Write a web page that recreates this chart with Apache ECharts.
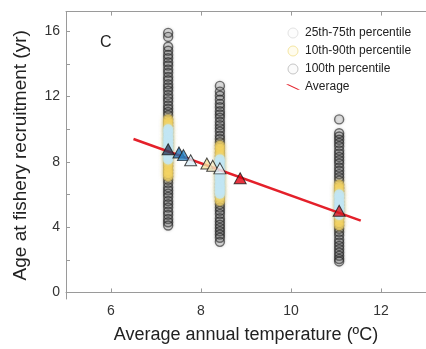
<!DOCTYPE html>
<html>
<head>
<meta charset="utf-8">
<script src="https://cdn.jsdelivr.net/npm/echarts@6/dist/echarts.min.js"></script>
<style>
    html, body { margin: 0; padding: 0; background: #fff; }
    #fig { width: 426px; height: 349px; }
</style>
</head>
<body>
<div id="fig"></div>
<script>
    // sites (average annual temperature, ºC)
    var siteTemp = [7.27, 8.42, 11.07]

    // simulated ages at fishery recruitment per site (yr)
    var agesSite1 = [15.9, 15.65, 15.05, 14.8, 14.55, 14.35, 14.1, 13.9, 13.65, 13.45, 13.2, 13.0, 12.75, 12.55, 12.35,
        12.1, 11.9, 11.7, 11.45, 11.25, 11.05, 10.85, 10.6, 10.4, 10.2, 10.0, 9.8, 9.55, 9.35, 9.15, 8.95, 8.75,
        8.55, 8.35, 8.15, 7.95, 7.75, 7.5, 7.3, 7.1, 6.9, 6.7, 6.45, 6.25, 6.05, 5.85, 5.6, 5.4, 5.2, 4.95, 4.75,
        4.5, 4.3, 4.1]
    var agesSite2 = [12.65, 12.3, 12.05, 11.8, 11.55, 11.35, 11.1, 10.9, 10.7, 10.45, 10.25, 10.05, 9.85, 9.6, 9.4,
        9.2, 9.0, 8.8, 8.55, 8.35, 8.15, 7.95, 7.7, 7.5, 7.3, 7.1, 6.9, 6.65, 6.45, 6.25, 6.05, 5.85, 5.6, 5.4, 5.2,
        5.0, 4.8, 4.55, 4.35, 4.15, 3.95, 3.75, 3.55, 3.35, 3.1]
    var agesSite3 = [10.6, 9.75, 9.55, 9.35, 9.15, 8.95, 8.7, 8.5, 8.3, 8.1, 7.9, 7.65, 7.45, 7.25, 7.05, 6.85, 6.6,
        6.4, 6.2, 6.0, 5.8, 5.55, 5.35, 5.15, 4.95, 4.75, 4.55, 4.3, 4.1, 3.9, 3.7, 3.5, 3.25, 3.05, 2.85, 2.65,
        2.45, 2.25, 2.05, 1.9]

    // percentile limits per site
    var p10 = [7.1, 5.6, 4.0]
    var p90 = [10.8, 9.0, 6.6]
    var p25 = [8.0, 6.0, 4.6]
    var p75 = [10.0, 8.3, 6.0]

    // averages (triangles) and the fitted average line
    var avgTemp = [7.27, 7.51, 7.61, 7.77, 8.13, 8.26, 8.42, 8.87, 11.07]
    var avgAge = [8.77, 8.57, 8.41, 8.10, 7.90, 7.76, 7.60, 6.99, 5.0]
    var avgColors = ['#2b3f5c', '#1f6fb0', '#2a86c8', '#d9eef7', '#f3e2a0', '#f6ebc4', '#eaf6fb', '#e3000f', '#d71920']
    var fitTemp = [6.5, 11.55]
    var fitAge = [9.4, 4.4]

    var xTicks = [6, 8, 10, 12]
    var yTicks = [0, 4, 8, 12, 16]
    var yMinorTicks = [0, 2, 4, 6, 8, 10, 12, 14, 16]

    var allAges = [agesSite1, agesSite2, agesSite3]

    function points(lo, hi) {
        var out = []
        allAges.forEach(function (ages, i) {
            ages.forEach(function (a) {
                if (!lo || (a >= lo[i] && a <= hi[i])) out.push([siteTemp[i], a])
            })
        })
        return out
    }

    var font = 'Liberation Sans, Arial, sans-serif'
    var axisGrey = '#9a9a9a'

    var option = {
        animation: false,
        backgroundColor: '#fff',
        textStyle: { fontFamily: font },
        grid: { left: 66, right: 0, top: 11.6, bottom: 47 },
        title: {
            text: 'C',
            left: 100,
            top: 35,
            padding: 0,
            textStyle: { fontFamily: font, fontSize: 16, fontWeight: 'normal', color: '#222' }
        },
        legend: {
            orient: 'vertical',
            left: 281,
            top: 22,
            itemWidth: 14,
            itemHeight: 10,
            itemGap: 6,
            textStyle: { fontFamily: font, fontSize: 12, color: '#222' },
            data: [
                { name: '25th-75th percentile', icon: 'circle', itemStyle: { color: '#fdfdfd', borderColor: '#dcdcdc', borderWidth: 1 } },
                { name: '10th-90th percentile', icon: 'circle', itemStyle: { color: '#fffbea', borderColor: '#f1e08e', borderWidth: 1 } },
                { name: '100th percentile', icon: 'circle', itemStyle: { color: '#fafafa', borderColor: '#b8b8b8', borderWidth: 1 } },
                { name: 'Average', icon: 'path://M0,0 L2.5,0 L15,6 L12.5,6 Z', itemStyle: { color: '#e4202a' } }
            ]
        },
        xAxis: [{
            type: 'value',
            min: 5,
            max: 13,
            name: 'Average annual temperature (ºC)',
            nameLocation: 'middle',
            nameGap: 27,
            nameTextStyle: { fontFamily: font, fontSize: 18, color: '#222' },
            axisLine: { show: true, lineStyle: { color: axisGrey } },
            axisTick: { show: true, inside: true, length: 4, customValues: xTicks, lineStyle: { color: axisGrey } },
            axisLabel: { customValues: xTicks, margin: 5, fontSize: 14, color: '#333', fontFamily: font },
            splitLine: { show: false }
        }, {
            type: 'value',
            position: 'top',
            min: 5,
            max: 13,
            axisLine: { show: true, lineStyle: { color: axisGrey } },
            axisTick: { show: true, inside: true, length: 4, customValues: xTicks, lineStyle: { color: axisGrey } },
            axisLabel: { show: false },
            splitLine: { show: false }
        }],
        yAxis: {
            type: 'value',
            min: -0.4,
            max: 17.2,
            name: 'Age at fishery recruitment (yr)',
            nameLocation: 'middle',
            nameGap: 36,
            nameTextStyle: { fontFamily: font, fontSize: 19, color: '#222' },
            axisLine: { show: true, lineStyle: { color: axisGrey } },
            axisTick: { show: true, inside: true, length: 4, customValues: yMinorTicks, lineStyle: { color: axisGrey } },
            axisLabel: { customValues: yTicks, margin: 6, fontSize: 14, color: '#333', fontFamily: font },
            splitLine: { show: false }
        },
        series: [
            {
                name: '100th percentile',
                type: 'scatter',
                silent: true,
                symbol: 'circle',
                symbolSize: 9,
                itemStyle: {
                    color: 'rgba(130,130,130,0.2)',
                    borderColor: 'rgba(30,30,30,0.75)',
                    borderWidth: 1.4,
                    shadowBlur: 3,
                    shadowColor: 'rgba(0,0,0,0.35)'
                },
                data: points()
            },
            {
                name: '10th-90th percentile',
                type: 'scatter',
                silent: true,
                symbol: 'circle',
                symbolSize: 10,
                itemStyle: { color: 'rgba(246,212,98,0.8)', shadowBlur: 4, shadowColor: 'rgba(246,212,98,0.8)' },
                data: points(p10, p90)
            },
            {
                name: '25th-75th percentile',
                type: 'scatter',
                silent: true,
                symbol: 'circle',
                symbolSize: 10,
                itemStyle: { color: '#c2e6f4', shadowBlur: 3, shadowColor: '#c2e6f4' },
                data: points(p25, p75)
            },
            {
                name: 'Average',
                type: 'line',
                silent: true,
                symbol: 'none',
                lineStyle: { color: '#e4202a', width: 2.5 },
                itemStyle: { color: '#e4202a' },
                data: fitTemp.map(function (t, i) { return [t, fitAge[i]] })
            },
            {
                name: 'site averages',
                type: 'scatter',
                silent: true,
                symbol: 'triangle',
                symbolSize: [12, 11],
                z: 5,
                data: avgTemp.map(function (t, i) {
                    return {
                        value: [t, avgAge[i]],
                        itemStyle: { color: avgColors[i], borderColor: '#1a1a1a', borderWidth: 1 }
                    }
                })
            }
        ]
    }

    var chart = echarts.init(document.getElementById('fig'))
    chart.setOption(option)
</script>
</body>
</html>
